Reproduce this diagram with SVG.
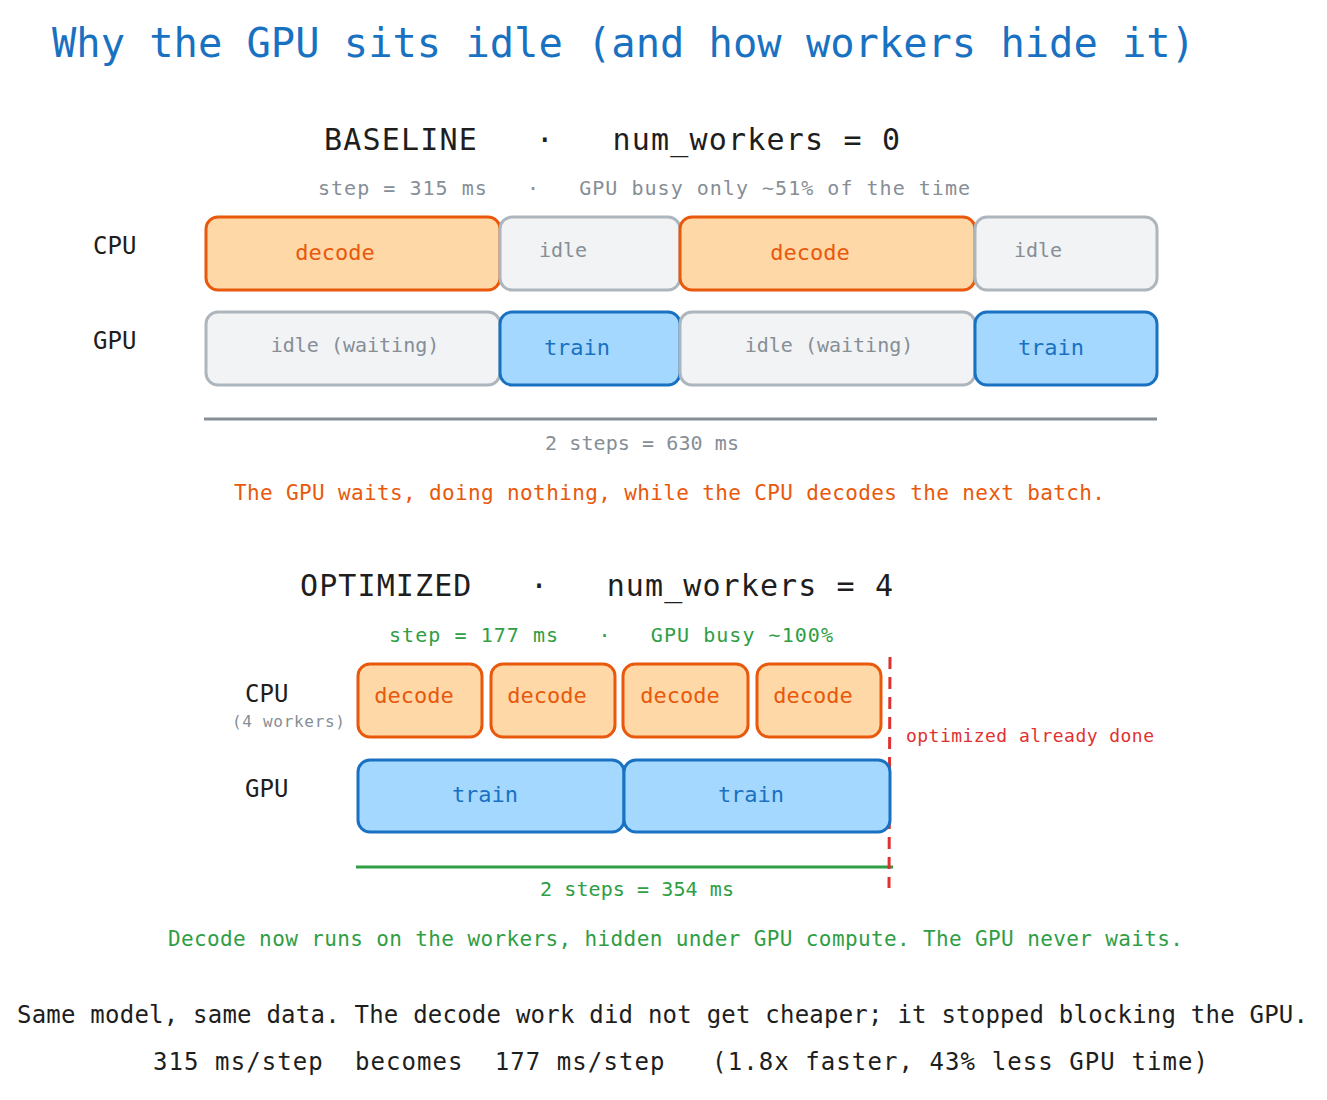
<svg xmlns="http://www.w3.org/2000/svg" width="1327" height="1100" viewBox="0 0 1327 1100">
<style>
text{font-family:"DejaVu Sans Mono","Liberation Mono",monospace}
.dec{fill:#ffd8a8;stroke:#e8590c;stroke-width:3}
.idl{fill:#f1f3f5;stroke:#adb5bd;stroke-width:3}
.trn{fill:#a5d8ff;stroke:#1971c2;stroke-width:3}
.td{fill:#e8590c;font-size:22px;text-anchor:middle}
.ti{fill:#868e96;font-size:20px;text-anchor:middle}
.tt{fill:#1971c2;font-size:22px;text-anchor:middle}
.lab{fill:#1e1e1e;font-size:24px}
</style>
<rect width="1327" height="1100" fill="#fff"/>
<text x="52" y="57" font-size="40" fill="#1971c2" textLength="1143" lengthAdjust="spacingAndGlyphs">Why the GPU sits idle (and how workers hide it)</text>

<g id="baseline-header">
<text x="324" y="150" font-size="30" fill="#1e1e1e" textLength="576" lengthAdjust="spacing" xml:space="preserve">BASELINE   ·   num_workers = 0</text>
<text x="318" y="195" font-size="20" fill="#868e96" textLength="652" lengthAdjust="spacing" xml:space="preserve">step = 315 ms   ·   GPU busy only ~51% of the time</text>
</g>
<text class="lab" x="93" y="254">CPU</text>
<text class="lab" x="93" y="349">GPU</text>
<g id="b-cpu1"><rect class="dec" x="206" y="217" width="294" height="73" rx="12"/><text class="td" x="335" y="260">decode</text></g>
<g id="b-cpu2"><rect class="idl" x="500" y="217" width="180" height="73" rx="12"/><text class="ti" x="563" y="257">idle</text></g>
<g id="b-cpu3"><rect class="dec" x="680" y="217" width="295" height="73" rx="12"/><text class="td" x="810" y="260">decode</text></g>
<g id="b-cpu4"><rect class="idl" x="975" y="217" width="182" height="73" rx="12"/><text class="ti" x="1038" y="257">idle</text></g>
<g id="b-gpu1"><rect class="idl" x="206" y="312" width="294" height="73" rx="12"/><text class="ti" x="355" y="352">idle (waiting)</text></g>
<g id="b-gpu2"><rect class="trn" x="500" y="312" width="180" height="73" rx="12"/><text class="tt" x="577" y="355">train</text></g>
<g id="b-gpu3"><rect class="idl" x="680" y="312" width="295" height="73" rx="12"/><text class="ti" x="829" y="352">idle (waiting)</text></g>
<g id="b-gpu4"><rect class="trn" x="975" y="312" width="182" height="73" rx="12"/><text class="tt" x="1051" y="355">train</text></g>

<g id="connectors">
<line x1="204" y1="419" x2="1157" y2="419" stroke="#868e96" stroke-width="3"/>
<line x1="356" y1="867" x2="893" y2="867" stroke="#2f9e44" stroke-width="3"/>
<line x1="890" y1="657" x2="889" y2="888" stroke="#e03131" stroke-width="3" stroke-dasharray="12 8"/>
</g>
<text x="545" y="450" font-size="20" fill="#868e96" textLength="194" lengthAdjust="spacing">2 steps = 630 ms</text>
<text x="234" y="500" font-size="21" fill="#e8590c" textLength="871" lengthAdjust="spacing">The GPU waits, doing nothing, while the CPU decodes the next batch.</text>

<g id="opt-header">
<text x="300" y="596" font-size="30" fill="#1e1e1e" textLength="593" lengthAdjust="spacing" xml:space="preserve">OPTIMIZED   ·   num_workers = 4</text>
<text x="389" y="642" font-size="20" fill="#2f9e44" textLength="444" lengthAdjust="spacing" xml:space="preserve">step = 177 ms   ·   GPU busy ~100%</text>
</g>
<text class="lab" x="245" y="702">CPU</text>
<text x="232" y="727" font-size="16" fill="#868e96" textLength="113" lengthAdjust="spacing">(4 workers)</text>
<text class="lab" x="245" y="797">GPU</text>
<g id="o-cpu1"><rect class="dec" x="358" y="664" width="124" height="73" rx="12"/><text class="td" x="414" y="703" font-size="18">decode</text></g>
<g id="o-cpu2"><rect class="dec" x="491" y="664" width="124" height="73" rx="12"/><text class="td" x="547" y="703" font-size="18">decode</text></g>
<g id="o-cpu3"><rect class="dec" x="623" y="664" width="125" height="73" rx="12"/><text class="td" x="680" y="703" font-size="18">decode</text></g>
<g id="o-cpu4"><rect class="dec" x="757" y="664" width="124" height="73" rx="12"/><text class="td" x="813" y="703" font-size="18">decode</text></g>
<g id="o-gpu1"><rect class="trn" x="358" y="760" width="266" height="72" rx="12"/><text class="tt" x="485" y="802">train</text></g>
<g id="o-gpu2"><rect class="trn" x="624" y="760" width="266" height="72" rx="12"/><text class="tt" x="751" y="802">train</text></g>
<text x="906" y="742" font-size="18" fill="#e03131" textLength="248" lengthAdjust="spacing">optimized already done</text>
<text x="540" y="896" font-size="20" fill="#2f9e44" textLength="194" lengthAdjust="spacing">2 steps = 354 ms</text>
<text x="168" y="946" font-size="21" fill="#2f9e44" textLength="1015" lengthAdjust="spacing">Decode now runs on the workers, hidden under GPU compute. The GPU never waits.</text>

<text x="17" y="1023" font-size="24" fill="#1e1e1e" textLength="1291" lengthAdjust="spacing">Same model, same data. The decode work did not get cheaper; it stopped blocking the GPU.</text>
<text x="153" y="1070" font-size="24" fill="#1e1e1e" textLength="1055" lengthAdjust="spacing" xml:space="preserve">315 ms/step  becomes  177 ms/step   (1.8x faster, 43% less GPU time)</text>
</svg>
